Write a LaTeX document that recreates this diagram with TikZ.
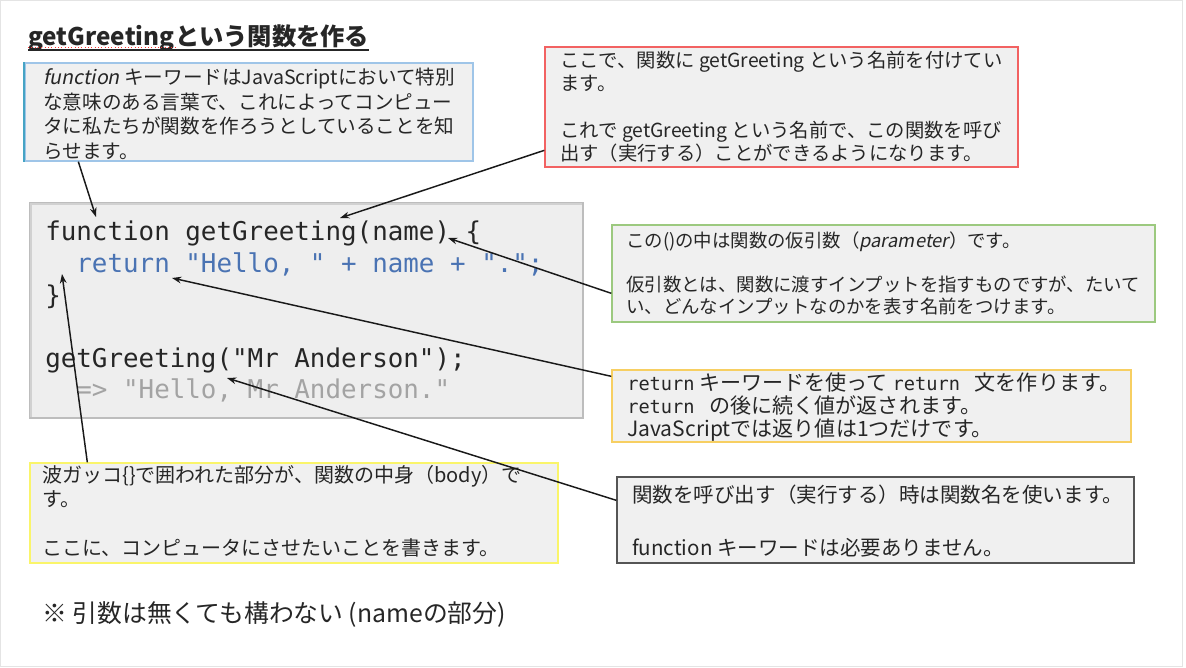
\documentclass[tikz,border=0pt]{standalone}
\usepackage{fontspec}
\setmainfont{Noto Sans CJK JP}
\newfontfamily\slfont{Noto Sans CJK JP}[FakeSlant=0.2]
\setmonofont{DejaVu Sans Mono}
\usetikzlibrary{arrows.meta,calc,fit}
\definecolor{txtc}{HTML}{262626}
\definecolor{boxfill}{HTML}{F0F0F0}
\definecolor{codefill}{HTML}{EEEEEE}
\definecolor{codeborder}{HTML}{BDBDBD}
\definecolor{bluec}{HTML}{9FC5E8}
\definecolor{tealc}{HTML}{46A4C4}
\definecolor{redc}{HTML}{F26262}
\definecolor{greenc}{HTML}{9CC97F}
\definecolor{goldc}{HTML}{F7CF62}
\definecolor{yellowc}{HTML}{FAF56A}
\definecolor{darkc}{HTML}{555555}
\definecolor{codeblue}{HTML}{4A73B3}
\definecolor{codegray}{HTML}{A3A3A3}
\definecolor{framec}{HTML}{E4E4E4}
\newcommand\kw[1]{{\fontsize{14pt}{17pt}\selectfont\ttfamily #1}}
\begin{document}
\begin{tikzpicture}[x=0.75pt,y=-0.75pt,
  box/.style={inner sep=0pt, fill=boxfill, line width=1pt},
  txt/.style={inner sep=0pt, anchor=north west, align=left, text=txtc},
  code/.style={inner sep=0pt, anchor=base west, text=txtc, font=\fontsize{19.4pt}{23.7pt}\selectfont\ttfamily},
  conn/.style={draw=black!90, line width=1.1pt, -{Stealth[length=7pt,width=5pt]}}]
\useasboundingbox (0,0) rectangle (1186,668);
\fill[white] (0,0) rectangle (1186,668);
\draw[framec, line width=1.2pt] (0.5,0.5) rectangle (1182.5,666.5);

% title
\node[inner sep=0pt, anchor=base west, text=txtc, font=\fontsize{18.2pt}{21pt}\selectfont\bfseries] (t1) at (28,45) {getGreeting};
\node[inner sep=0pt, anchor=base west, text=txtc, font=\fontsize{18.2pt}{21pt}\selectfont\bfseries] (t2) at (t1.base east) {という関数を作る};
\draw[txtc, line width=1.6pt] ($(t1.base west)+(0,5)$) -- ($(t2.base east)+(0,5)$);
\draw[red!80, line width=0.5pt, dotted] ($(t1.base west)+(0,2.5)$) -- ($(t1.base east)+(0,2.5)$);

% boxes
\node[box, draw=bluec, fit={(25,63) (473,161)}] (b1) {};
\draw[tealc, line width=1.6pt] (b1.north west) -- (b1.south west);
\node[box, draw=redc, fit={(545,47) (1018,167)}] (b2) {};
\node[box, draw=codeborder, fill=codefill, fit={(30,203) (583,418)}] (cb) {};
\draw[black!18, line width=1.5pt] ($(cb.south west)+(2,-2)$) -- ($(cb.north west)+(2,2)$) -- ($(cb.north east)+(-2,2)$);
\node[box, draw=greenc, fit={(612,225) (1155,322)}] (b3) {};
\node[box, draw=goldc, fit={(612,370) (1131,442)}] (b4) {};
\node[box, draw=yellowc, fit={(30,463) (558,563)}] (b5) {};
\node[box, draw=darkc, fit={(617,477) (1134,563)}] (b6) {};

% texts
\node[txt, font=\fontsize{14.7pt}{18.4pt}\selectfont] (b1t) at (43,68) {{\slfont function} キーワードはJavaScriptにおいて特別\\
な意味のある言葉で、これによってコンピュー\\
タに私たちが関数を作ろうとしていることを知\\
らせます。};
\node[txt, font=\fontsize{14.5pt}{17.5pt}\selectfont] (b2t) at (560,51) {ここで、関数に getGreeting という名前を付けてい\\
ます。\\[17.5pt]
これで getGreeting という名前で、この関数を呼び\\
出す（実行する）ことができるようになります。};
\node[txt, font=\fontsize{13.8pt}{16.7pt}\selectfont] (b3t) at (626,231) {この()の中は関数の仮引数（{\slfont parameter}）です。\\[16.7pt]
仮引数とは、関数に渡すインプットを指すものですが、たいて\\
い、どんなインプットなのかを表す名前をつけます。};
\node[txt, font=\fontsize{15.8pt}{17.6pt}\selectfont] (b4t) at (627,372) {\kw{return} キーワードを使って \kw{return }\,文を作ります。\\
\kw{return }\,の後に続く値が返されます。\\
JavaScriptでは返り値は1つだけです。};
\node[txt, font=\fontsize{15pt}{18.2pt}\selectfont] (b5t) at (42,465) {波ガッコ\{\}で囲われた部分が、関数の中身（body）で\\
す。\\[18.2pt]
ここに、コンピュータにさせたいことを書きます。};
\node[txt, font=\fontsize{15.4pt}{19.9pt}\selectfont] (b6t) at (632,485) {関数を呼び出す（実行する）時は関数名を使います。\\[19.9pt]
function キーワードは必要ありません。};
\node[inner sep=0pt, anchor=west, text=txtc, font=\fontsize{18.6pt}{22pt}\selectfont] (note) at (42,614) {※ 引数は無くても構わない (nameの部分)};

% code
\node[code] (c1) at (45,240.5) {function getGreeting(name) \{};
\node[code, text=codeblue] (c2) at (45,272.5) {\phantom{xx}return "Hello, " + name + ".";};
\node[code] (c3) at (45,304.5) {\}};
\node[code] (c4) at (45,367.5) {getGreeting("Mr Anderson");};
\node[code, text=codegray] (c5) at (45,398.5) {\phantom{xx}=> "Hello, Mr Anderson."};

% arrow targets
\coordinate (tFunc) at (96,217);
\coordinate (tName) at (340,218);
\coordinate (tParen) at (448,238);
\coordinate (tReturn) at (172,278);
\coordinate (tBody) at (62,274);
\coordinate (tCall) at (227,378);

% connectors
\draw[conn] ($(b1.south west)+(54,0)$) -- (tFunc);
\draw[conn] ($(b2.north west)+(0,104)$) -- (tName);
\draw[conn] ($(b3.north west)+(0,69)$) -- (tParen);
\draw[conn] ($(b4.north west)+(0,7)$) -- (tReturn);
\draw[conn] ($(b6.north west)+(0,24)$) -- (tCall);
\draw[conn] ($(b5.north west)+(58,0)$) -- (tBody);
\end{tikzpicture}
\end{document}
